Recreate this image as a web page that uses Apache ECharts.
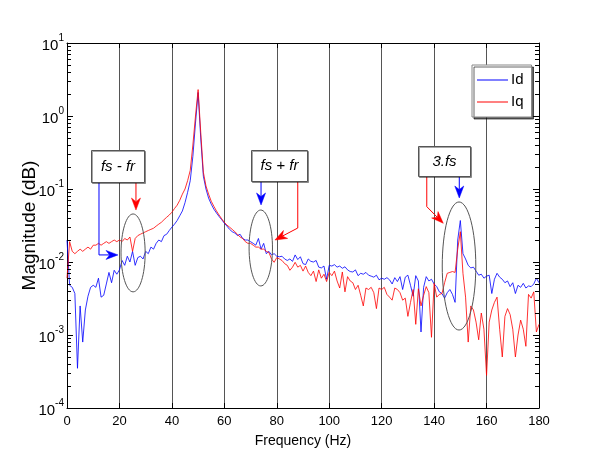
<!DOCTYPE html>
<html>
<head>
<meta charset="utf-8">
<script src="https://cdn.jsdelivr.net/npm/echarts@6/dist/echarts.min.js"></script>
<style>
html,body{margin:0;padding:0;background:#fff;}
#c{width:592px;height:475px;}
</style>
</head>
<body>
<div id="c"></div>
<script>
// ---- data (frequency step 1 Hz, 0..180) ----
var freqStart = 0, freqStep = 1;
var idValues = [
0.02,0.0048,0.0045,0.0037,0.00035,0.0025,0.0008,0.0022,0.0034,0.0045,
0.0048,0.0045,0.006,0.0033,0.0035,0.005,0.0072,0.0052,0.0077,0.0068,
0.0078,0.0105,0.009,0.012,0.01,0.014,0.009,0.0115,0.012,0.011,
0.014,0.013,0.016,0.015,0.018,0.02,0.019,0.023,0.024,0.027,
0.03,0.033,0.037,0.043,0.05,0.065,0.09,0.13,0.28,0.8,
2.1,0.5,0.15,0.1,0.075,0.062,0.053,0.047,0.042,0.038,
0.034,0.031,0.028,0.026,0.025,0.023,0.024,0.021,0.02,0.02,
0.019,0.018,0.017,0.021,0.015,0.018,0.013,0.014,0.0125,0.013,
0.012,0.0118,0.012,0.011,0.0105,0.011,0.0102,0.0125,0.0108,0.0118,
0.0095,0.0092,0.011,0.0102,0.01,0.0105,0.0085,0.0083,0.0088,0.0058,
0.009,0.0088,0.0092,0.0085,0.0088,0.0082,0.0086,0.0078,0.0074,0.0073,
0.0078,0.0065,0.007,0.0068,0.0072,0.0066,0.0064,0.0062,0.0066,0.0057,
0.006,0.0058,0.0061,0.0057,0.005,0.0061,0.0054,0.0063,0.0042,0.0062,
0.0066,0.0048,0.0034,0.0065,0.0055,0.0011,0.0045,0.0063,0.0055,0.0058,
0.005,0.0046,0.0039,0.0037,0.0032,0.0038,0.0042,0.0036,0.0028,0.02,
0.037,0.013,0.011,0.009,0.0083,0.0085,0.0075,0.0066,0.0068,0.006,
0.0064,0.0066,0.0037,0.0058,0.007,0.0062,0.0058,0.0052,0.0055,0.0046,
0.0052,0.0037,0.0048,0.0045,0.0051,0.0044,0.0047,0.0046,0.005,0.006,
0.0052
];
var iqValues = [
0.006,0.019,0.014,0.013,0.014,0.015,0.014,0.015,0.016,0.015,
0.017,0.017,0.018,0.017,0.018,0.019,0.018,0.019,0.02,0.019,
0.02,0.019,0.021,0.02,0.022,0.014,0.021,0.023,0.024,0.025,
0.026,0.027,0.028,0.029,0.031,0.033,0.035,0.038,0.041,0.044,
0.048,0.054,0.06,0.07,0.085,0.1,0.13,0.18,0.4,1.0,
2.3,0.6,0.17,0.11,0.085,0.068,0.058,0.05,0.044,0.039,
0.035,0.032,0.03,0.028,0.026,0.024,0.022,0.021,0.019,0.018,
0.018,0.017,0.016,0.016,0.015,0.015,0.014,0.0135,0.011,0.0099,
0.0115,0.011,0.0105,0.0095,0.009,0.0077,0.0085,0.0099,0.0085,0.009,
0.0075,0.0088,0.0072,0.0065,0.0075,0.0054,0.0078,0.006,0.0068,0.0054,
0.0072,0.0065,0.0075,0.0055,0.0044,0.0073,0.0039,0.0063,0.0055,0.0052,
0.0042,0.0048,0.0035,0.0025,0.0044,0.0042,0.0045,0.0038,0.0023,0.0044,
0.0042,0.0045,0.0036,0.0033,0.003,0.0044,0.0042,0.0038,0.003,0.0032,
0.0018,0.0028,0.0042,0.0014,0.0043,0.0025,0.0035,0.0046,0.0038,0.00093,
0.0051,0.0033,0.0036,0.0037,0.0052,0.007,0.0072,0.0074,0.0072,0.015,
0.026,0.007,0.0033,0.0008,0.0025,0.0022,0.0015,0.00086,0.002,0.0012,
0.00028,0.0015,0.0022,0.0028,0.0033,0.0012,0.0005,0.0018,0.0023,0.0019,
0.0012,0.0005,0.001,0.0016,0.0012,0.0007,0.0036,0.0032,0.0039,0.0011,
0.0014
];
var xTicks = [0,20,40,60,80,100,120,140,160,180];
var yMin = 1e-4, yMax = 10;
var seriesNames = ['Id','Iq'];

// annotations in data coordinates [freq, magnitude]
var annBoxes = [
  {text:'fs - fr', x0:9.3, x1:29.4, y0:0.342, y1:0.125},
  {text:'fs + fr', x0:70.1, x1:91.4, y0:0.342, y1:0.130},
  {text:'3.fs',    x0:134.0, x1:153.7, y0:0.388, y1:0.151}
];
var annArrows = [
  {color:'#0000ff', pts:[[12.2,0.125],[12.2,0.0125],[19.45,0.0125]]},
  {color:'#ff0000', pts:[[26.3,0.125],[26.3,0.0515]]},
  {color:'#0000ff', pts:[[74.0,0.130],[74.0,0.0604]]},
  {color:'#ff0000', pts:[[88.0,0.130],[88.0,0.0292],[79.3,0.0200]]},
  {color:'#0000ff', pts:[[149.6,0.151],[149.6,0.0753]]},
  {color:'#ff0000', pts:[[137.2,0.151],[137.2,0.0573],[143.5,0.0339]]}
];
var annEllipses = [
  {cx:25.2, rx:4.6, top:0.0455, bottom:0.0039},
  {cx:73.9, rx:4.46, top:0.0515, bottom:0.0047},
  {cx:149.5, rx:6.4, top:0.0664, bottom:0.00117}
];

var FONT = '"Liberation Sans", Arial, Helvetica, sans-serif';
function pairs(vals){
  var out = [];
  for (var i = 0; i < vals.length; i++) out.push([freqStart + i*freqStep, vals[i]]);
  return out;
}

var chart = echarts.init(document.getElementById('c'), null, {renderer:'canvas'});
var option = {
  backgroundColor: '#ffffff',
  animation: false,
  grid: {left:67, right:53, top:43, bottom:67, show:false},
  legend: {
    data: seriesNames,
    orient: 'vertical',
    left: 472, top: 65,
    backgroundColor: '#ffffff',
    borderColor: '#888888', borderWidth: 1,
    shadowColor: 'rgba(0,0,0,0.6)', shadowOffsetX: 2, shadowOffsetY: 2, shadowBlur: 0,
    padding: [7, 8, 7, 5],
    itemWidth: 31, itemHeight: 1, itemGap: 6,
    icon: 'rect',
    textStyle: {fontFamily: FONT, fontSize: 15, color:'#000', lineHeight: 16, padding:[0,0,0,-2]}
  },
  xAxis: [{
    type: 'value', min: 0, max: 180, interval: 20, position: 'bottom',
    name: 'Frequency (Hz)', nameLocation: 'middle', nameGap: 26,
    nameMoveOverlap: false,
    nameTextStyle: {fontFamily: FONT, fontSize: 14, color:'#000'},
    axisLine: {show:true, onZero:false, lineStyle:{color:'#000', width:1}},
    axisTick: {show:true, inside:true, length:5, lineStyle:{color:'#000'}},
    axisLabel: {fontFamily: FONT, fontSize: 13, color:'#000', margin: 7},
    splitLine: {show:true, lineStyle:{color:'#555555', width:1}}
  },{
    type: 'value', min: 0, max: 180, interval: 20, position: 'top',
    axisLine: {show:true, onZero:false, lineStyle:{color:'#000', width:1}},
    axisTick: {show:true, inside:true, length:5, lineStyle:{color:'#000'}},
    axisLabel: {show:false},
    splitLine: {show:false}
  }],
  yAxis: [{
    type: 'log', logBase: 10, min: yMin, max: yMax, position: 'left',
    name: 'Magnitude (dB)', nameLocation: 'middle', nameGap: 28,
    nameMoveOverlap: false,
    nameTextStyle: {fontFamily: FONT, fontSize: 19, color:'#000'},
    axisLine: {show:true, onZero:false, lineStyle:{color:'#000', width:1}},
    axisTick: {show:true, inside:true, length:6, lineStyle:{color:'#000'}},
    axisLabel: {
      margin: 3,
      formatter: function(v){
        var e = Math.round(Math.log(v)/Math.LN10);
        return '{b|10}{s|' + e + '}';
      },
      rich: {
        b: {fontFamily: FONT, fontSize: 15, color:'#000', verticalAlign:'bottom', lineHeight: 20},
        s: {fontFamily: FONT, fontSize: 10, color:'#000', verticalAlign:'top', lineHeight: 20, padding:[0,0,0,0]}
      }
    },
    splitLine: {show:false}
  },{
    type: 'log', logBase: 10, min: yMin, max: yMax, position: 'right',
    axisLine: {show:true, onZero:false, lineStyle:{color:'#000', width:1}},
    axisTick: {show:true, inside:true, length:6, lineStyle:{color:'#000'}},
    axisLabel: {show:false},
    splitLine: {show:false}
  }],
  series: [{
    name: 'Id', type: 'line', xAxisIndex: 0, yAxisIndex: 0,
    data: pairs(idValues), showSymbol: false, symbol: 'none',
    lineStyle: {color:'#0000ff', width: 1, opacity: 0.8}, itemStyle: {color:'#0000ff'}, z: 3
  },{
    name: 'Iq', type: 'line', xAxisIndex: 0, yAxisIndex: 0,
    data: pairs(iqValues), showSymbol: false, symbol: 'none',
    lineStyle: {color:'#ff0000', width: 1, opacity: 0.8}, itemStyle: {color:'#ff0000'}, z: 4
  }]
};
chart.setOption(option);

function px(p){ return chart.convertToPixel({xAxisIndex:0, yAxisIndex:0}, p); }

var g = [];
// log minor ticks on left and right
var L = px([0, 1])[0], R = px([180, 1])[0];
for (var k = -4; k <= 0; k++) {
  for (var m = 2; m <= 9; m++) {
    var y = px([0, m * Math.pow(10, k)])[1];
    y = Math.round(y) + 0.5;
    g.push({type:'line', shape:{x1:L, y1:y, x2:L+4, y2:y}, style:{stroke:'#000', lineWidth:1}, z:10});
    g.push({type:'line', shape:{x1:R-4, y1:y, x2:R, y2:y}, style:{stroke:'#000', lineWidth:1}, z:10});
  }
}
// ellipses
annEllipses.forEach(function(e){
  var t = px([e.cx, e.top]), b = px([e.cx, e.bottom]);
  var r = px([e.cx + e.rx, e.top]);
  g.push({type:'ellipse', shape:{cx:t[0], cy:(t[1]+b[1])/2, rx:r[0]-t[0], ry:(b[1]-t[1])/2},
    style:{stroke:'#555555', fill:null, lineWidth:1}, z:20});
});
// arrows
annArrows.forEach(function(a){
  var pts = a.pts.map(px);
  var n = pts.length;
  var tip = pts[n-1], prev = pts[n-2];
  var dx = tip[0]-prev[0], dy = tip[1]-prev[1];
  var len = Math.sqrt(dx*dx+dy*dy); dx/=len; dy/=len;
  var hl = 12, hw = 4.5;
  var bx = tip[0]-dx*hl, by = tip[1]-dy*hl;
  var nx = -dy, ny = dx;
  var shaftEnd = [tip[0]-dx*hl*0.7, tip[1]-dy*hl*0.7];
  var shaft = pts.slice(0, n-1).concat([shaftEnd]);
  g.push({type:'polyline', shape:{points:shaft}, style:{stroke:a.color, fill:null, lineWidth:1}, z:21});
  g.push({type:'polygon', shape:{points:[tip,[bx+nx*hw,by+ny*hw],shaftEnd,[bx-nx*hw,by-ny*hw]]},
    style:{fill:a.color, stroke:a.color, lineWidth:0.5}, z:21});
});
// boxes
annBoxes.forEach(function(b){
  var p0 = px([b.x0, b.y0]), p1 = px([b.x1, b.y1]);
  var x = Math.round(p0[0])+0.5, y = Math.round(p0[1])+0.5;
  var w = Math.round(p1[0]-p0[0]), h = Math.round(p1[1]-p0[1]);
  g.push({type:'rect', shape:{x:x, y:y, width:w, height:h},
    style:{fill:'#ffffff', stroke:'#555555', lineWidth:1, shadowColor:'rgba(0,0,0,0.35)', shadowOffsetX:1, shadowOffsetY:1}, z:22});
  g.push({type:'text', x: x + w/2, y: y + h/2, z:23,
    style:{text:b.text, fill:'#000', font:'italic 15px ' + FONT, textAlign:'center', textVerticalAlign:'middle'}});
});
chart.setOption({graphic: g});
</script>
</body>
</html>
